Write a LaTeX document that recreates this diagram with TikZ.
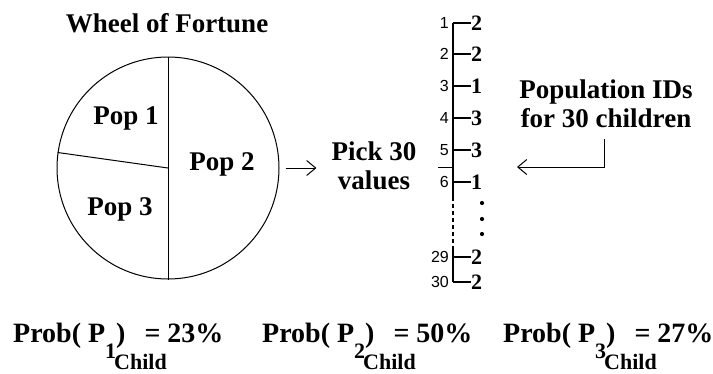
\documentclass[tikz,border=0pt]{standalone}
\usepackage{fontspec}
\setmainfont{Liberation Serif}
\newfontfamily\tickfont{Liberation Sans}
\usetikzlibrary{arrows.meta,positioning,calc}

\begin{document}
\begin{tikzpicture}[x=1pt, y=-1pt,
    lbl/.style={font=\fontsize{27}{29}\selectfont\bfseries, inner sep=0pt},
    prob/.style={font=\fontsize{28}{30}\selectfont\bfseries, inner sep=0pt, anchor=base west},
    child/.style={font=\fontsize{22}{24}\selectfont\bfseries, inner sep=0pt, anchor=base west},
    idnum/.style={font=\tickfont\fontsize{16}{18}\selectfont, inner sep=0pt, anchor=east},
    idval/.style={font=\fontsize{22}{24}\selectfont\bfseries, inner sep=0pt, anchor=west},
    arr/.style={-{Straight Barb[length=9pt,width=15pt]}, line width=1pt}]
  \useasboundingbox (0,0) rectangle (713,373);

  % wheel
  \node[lbl, anchor=base] (title) at (167,32) {Wheel of Fortune};
  \node[draw, circle, line width=1pt, minimum size=222pt, inner sep=0pt] (wheel) at (168,168) {};
  \draw[line width=1pt] (wheel.north) -- (wheel.south);
  \draw[line width=1pt] (wheel.172) -- (wheel.center);
  \node[lbl, anchor=base] (pop1) at (126,124) {Pop 1};
  \node[lbl, anchor=base] (pop2) at (222,170) {Pop 2};
  \node[lbl, anchor=base] (pop3) at (120,215) {Pop 3};

  % picking
  \node[lbl, align=center] (pick) at (374,166) {Pick 30\\values};
  \draw[arr] ([xshift=6pt]wheel.east) -- ($(wheel.east -| pick.west)+(-15,0)$);

  % list of IDs
  \foreach \n/\y/\v in {1/23/2, 2/54/2, 3/86/1, 4/118/3, 5/150/3, 6/182/1, 29/257/2, 30/282/2} {
    \coordinate (t\n) at (453,\y);
    \node[idnum] (n\n) at (449,\y) {\n};
    \node[idval] (v\n) at (471,\y) {\v};
    \draw[line width=1.3pt] (t\n) -- (v\n.west);
  }
  \draw[line width=1.3pt] (t1) -- ([yshift=-15pt]t6);
  \draw[line width=1.3pt, dash pattern=on 4pt off 3pt] ([yshift=-15pt]t6) -- ([yshift=10pt]t29);
  \draw[line width=1.3pt] ([yshift=10pt]t29) -- (t30);
  \coordinate (cut) at (438,167);
  \draw[line width=1pt] (cut) -- (cut -| t6);
  \foreach \y in {203,219,234}
    \fill (482,\y) circle (2.1pt);

  \node[lbl, align=center] (ids) at (606,104) {Population IDs\\for 30 children};
  \coordinate (idstip) at (517,167);
  \draw[arr] ([xshift=-2pt, yshift=-11pt]ids.south) |- (idstip);

  % probabilities
  \foreach \i/\x/\p in {1/13/23, 2/262/50, 3/503/27} {
    \node[prob] (prob\i) at (\x,342) {Prob( P\raisebox{-16pt}{\fontsize{22}{22}\selectfont \i})\hspace{19pt}= \p\%};
    \node[child] (child\i) at (\x+101,369) {Child};
  }
\end{tikzpicture}
\end{document}
